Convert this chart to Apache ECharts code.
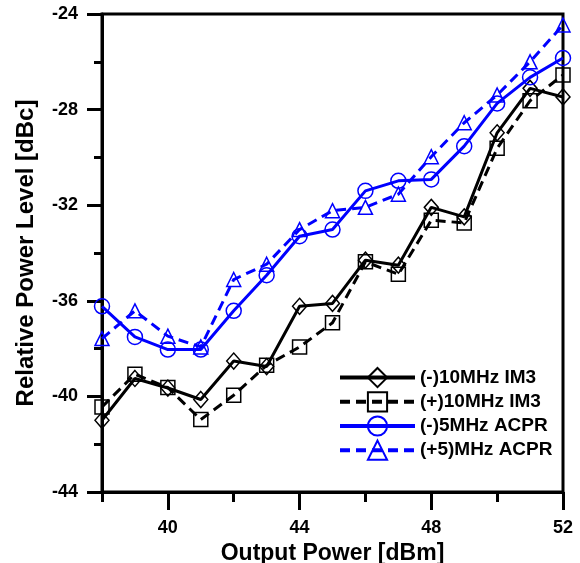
<!DOCTYPE html>
<html>
<head>
<meta charset="utf-8">
<script src="https://cdn.jsdelivr.net/npm/echarts@6/dist/echarts.min.js"></script>
<style>
  html, body { margin: 0; padding: 0; background: #fff; }
  #chart { width: 580px; height: 563px; }
</style>
</head>
<body>
<div id="chart"></div>
<script>
// output power [dBm]
const power = [38, 39, 40, 41, 42, 43, 44, 45, 46, 47, 48, 49, 50, 51, 52]
// relative level [dBc]
const im3Minus = [-41.0, -39.25, -39.65, -40.13, -38.52, -38.75, -36.23, -36.11, -34.3, -34.51, -32.09, -32.49, -28.97, -27.11, -27.47]
const im3Plus = [-40.44, -39.07, -39.63, -40.97, -39.95, -38.7, -37.93, -36.92, -34.37, -34.89, -32.63, -32.74, -29.62, -27.63, -26.55]
const acprMinus = [-36.23, -37.51, -38.04, -38.04, -36.42, -34.93, -33.3, -33.02, -31.4, -30.98, -30.92, -29.53, -27.74, -26.65, -25.84]
const acprPlus = [-37.58, -36.42, -37.48, -37.93, -35.11, -34.47, -33.02, -32.23, -32.09, -31.54, -29.97, -28.55, -27.39, -26.0, -24.46]
const xLabels = [40, 44, 48, 52]
const names = ['(-)10MHz IM3', '(+)10MHz IM3', '(-)5MHz ACPR', '(+5)MHz ACPR']

const font = 'Liberation Sans, Arial, sans-serif'
const black = '#000'
const blue = '#0000ff'

const chart = echarts.init(document.getElementById('chart'))

// one line series, hollow markers
const makeSeries = (name, values, color, dashed, symbol, size) => ({
  name: name,
  type: 'line',
  data: values.map((v, i) => [power[i], v]),
  symbol: symbol,
  symbolSize: size,
  lineStyle: { color: color, width: 3, type: dashed ? [10, 6] : 'solid' },
  itemStyle: { color: 'transparent', borderColor: color, borderWidth: 1.5 },
  emphasis: { disabled: true }
})

const axisLine = { show: true, lineStyle: { color: black, width: 3 } }

chart.setOption({
  animation: false,
  grid: {
    left: 102, right: 17, top: 14, bottom: 71,
    outerBoundsMode: 'none',
    show: true, borderColor: black, borderWidth: 3
  },
  legend: {
    orient: 'vertical',
    left: 333, top: 362,
    itemWidth: 75, itemHeight: 24, itemGap: 3,
    data: names,
    lineStyle: { width: 4 },
    textStyle: { color: black, fontFamily: font, fontWeight: 'bold', fontSize: 19 }
  },
  xAxis: [
    {
      type: 'value', min: 38, max: 52, interval: 2,
      axisLine: axisLine,
      axisTick: { length: 10, lineStyle: { color: black, width: 3 } },
      axisLabel: { show: false },
      splitLine: { show: false }
    },
    {
      type: 'value', min: 38, max: 52, position: 'bottom',
      axisLine: { show: false },
      axisTick: { customValues: xLabels, length: 18, lineStyle: { color: black, width: 3 } },
      axisLabel: {
        customValues: xLabels, margin: 27,
        color: black, fontFamily: font, fontWeight: 'bold', fontSize: 18
      },
      splitLine: { show: false },
      name: 'Output Power [dBm]',
      nameLocation: 'middle', nameGap: 34,
      nameTextStyle: { color: black, fontFamily: font, fontWeight: 'bold', fontSize: 23 }
    }
  ],
  yAxis: {
    type: 'value', min: -44, max: -24, interval: 4,
    axisLine: axisLine,
    axisTick: { length: 15, lineStyle: { color: black, width: 3 } },
    minorTick: { show: true, splitNumber: 2, length: 8, lineStyle: { color: black, width: 3 } },
    axisLabel: { margin: 24, color: black, fontFamily: font, fontWeight: 'bold', fontSize: 18 },
    splitLine: { show: false },
    name: 'Relative Power Level [dBc]',
    nameLocation: 'middle', nameGap: 64,
    nameTextStyle: { color: black, fontFamily: font, fontWeight: 'bold', fontSize: 24 }
  },
  series: [
    makeSeries(names[0], im3Minus, black, false, 'diamond', [14, 16]),
    makeSeries(names[1], im3Plus, black, true, 'rect', 14),
    makeSeries(names[2], acprMinus, blue, false, 'circle', 15),
    makeSeries(names[3], acprPlus, blue, true, 'triangle', 14)
  ]
})
</script>
</body>
</html>
